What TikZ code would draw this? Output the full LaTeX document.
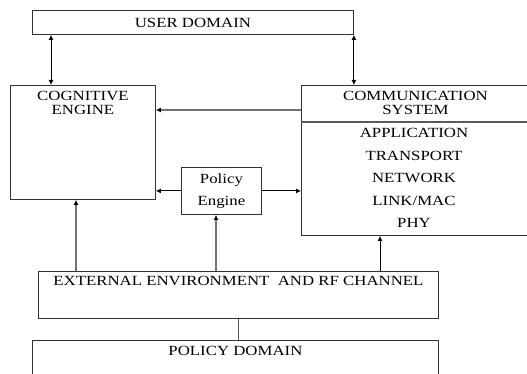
\documentclass[tikz,border=0pt]{standalone}
\usepackage{fontspec}
\setmainfont{Liberation Serif}[FakeStretch=1.2]
\usetikzlibrary{positioning}
\usetikzlibrary{arrows.meta}
\usetikzlibrary{calc}

\begin{document}
\begin{tikzpicture}[x=1pt, y=-1pt,
    every node/.style={font=\fontsize{14}{13.8}\selectfont},
    box/.style={draw=black!80, line width=0.9pt, rectangle, inner sep=0pt, anchor=north west},
    toptext/.style={anchor=north, align=center, inner sep=0pt, yshift=-6pt},
    arr/.style={-{Latex[length=5pt,width=5pt]}, line width=0.9pt},
    dbl/.style={{Latex[length=5pt,width=5pt]}-{Latex[length=5pt,width=5pt]}, line width=0.9pt},
    gray arr/.style={-{Latex[length=5pt,width=5pt,color=black]}, draw=black!55, line width=1.4pt},
    gray line/.style={draw=black!65, line width=1.2pt}]
            \useasboundingbox (0,0) rectangle (527,374);
            \clip (0,0) rectangle (527,374);

            \node[box, minimum width=321pt, minimum height=24pt] (user) at (32,10) {USER DOMAIN};
            \node[box, minimum width=145pt, minimum height=114pt, label={[toptext]north:COGNITIVE\\ENGINE}] (cog) at (10,85) {};
            \node[box, minimum width=228pt, minimum height=150pt, label={[toptext]north:COMMUNICATION\\SYSTEM}] (comm) at (301,85) {};
            \node[box, minimum width=80pt, minimum height=47pt, align=center, font=\fontsize{14}{22}\selectfont] (pol) at (181,167) {Policy\\Engine};
            \node[box, minimum width=400pt, minimum height=47pt, label={[toptext, yshift=1pt]north:EXTERNAL ENVIRONMENT\ \ AND RF CHANNEL}] (ext) at (38,271) {};
            \node[box, minimum width=406pt, minimum height=60pt, label={[toptext]north:POLICY DOMAIN}] (dom) at (32,340) {};
            \node[align=center, font=\fontsize{14}{22.6}\selectfont] (layers) at (414,178) {APPLICATION\\TRANSPORT\\NETWORK\\LINK/MAC\\PHY};

            \draw[gray line] ($(comm.north west)+(0,37)$) coordinate (d1) -- (d1 -| comm.east);

            \draw[dbl] ($(user.south west)+(19,0)$) coordinate (u1) -- (u1 |- cog.north);
            \draw[dbl] (user.south east) -- (user.south east |- comm.north);
            \draw[gray arr] ($(comm.north west)+(0,25)$) coordinate (c1) -- (c1 -| cog.east);
            \draw[arr] (pol.west) -- (pol.west -| cog.east);
            \draw[arr] (pol.east) -- (pol.east -| comm.west);
            \draw[gray arr] ($(ext.north west)+(38,0)$) coordinate (e1) -- (e1 |- cog.south);
            \draw[gray arr] ($(ext.north west)+(178,0)$) coordinate (e2) -- (e2 |- pol.south);
            \draw[arr] ($(ext.north west)+(342,0)$) coordinate (e3) -- (e3 |- comm.south);
            \draw[gray line] (ext.south) -- (ext.south |- dom.north);
        \end{tikzpicture}
\end{document}
